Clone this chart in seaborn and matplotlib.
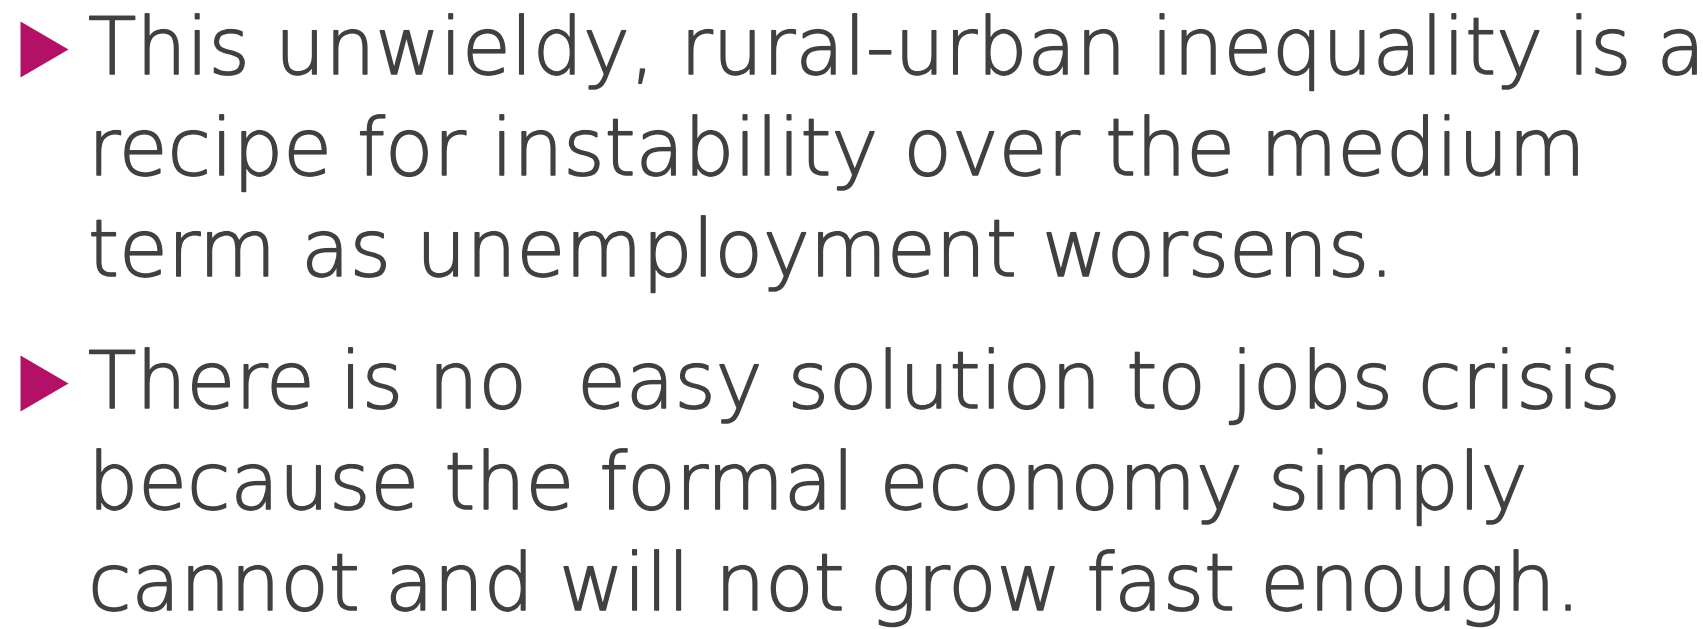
import matplotlib.pyplot as plt
import matplotlib.patheffects as pe
import pandas as pd
import seaborn as sns

# Slide content: two bullets, each wrapped over three lines
bullet_1 = ["This unwieldy, rural-urban inequality is a",
            "recipe for instability over the medium",
            "term as unemployment worsens."]
bullet_2 = ["There is no  easy solution to jobs crisis",
            "because the formal economy simply",
            "cannot and will not grow fast enough."]
bullets = [bullet_1, bullet_2]

text_color = "#404040"
bullet_color = "#B31166"

sns.set_theme(style="white")
plt.rcParams['font.family'] = ['DejaVu Sans']

fig = plt.figure(figsize=(17.03, 6.29), dpi=100)
ax = fig.add_axes([0, 0, 1, 1])
ax.set_xlim(0, 1703)
ax.set_ylim(629, 0)
ax.axis('off')

# baselines (px from top) for each block
first_baselines = [74, 408]
line_step = 101

# light face, thickened slightly to get the reference stroke weight
thicken = [pe.withStroke(linewidth=1.1, foreground=text_color)]

rows = []
for b, (lines, y0) in enumerate(zip(bullets, first_baselines)):
    for i, line in enumerate(lines):
        ax.text(88, y0 + i * line_step, line, fontsize=57, color=text_color,
                va='baseline', ha='left', fontweight='light',
                path_effects=thicken)
    rows.append({'x': 44, 'y': y0 - 25})

df_bul = pd.DataFrame(rows)
tri = [(0.857, 0), (-0.857, -1), (-0.857, 1)]
sns.scatterplot(data=df_bul, x='x', y='y', marker=tri, s=1625,
                color=bullet_color, linewidth=0, ax=ax, legend=False)

fig.savefig('out.png', dpi=100, facecolor='white')
